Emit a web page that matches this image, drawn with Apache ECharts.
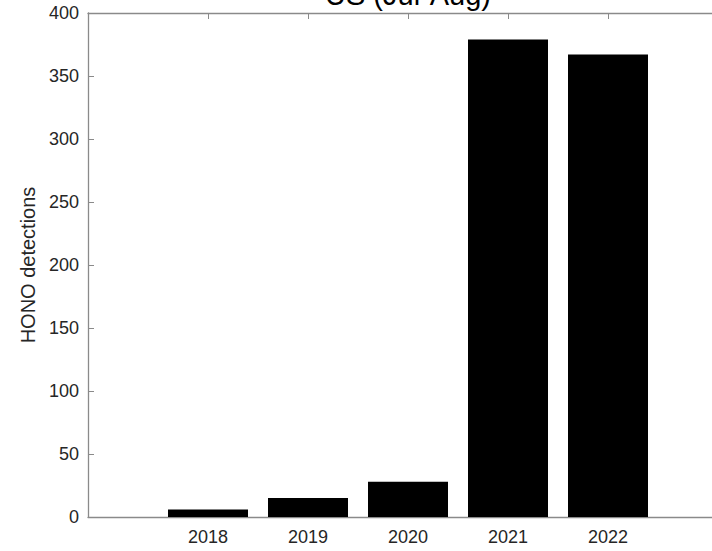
<!DOCTYPE html>
<html>
<head>
<meta charset="utf-8">
<script src="https://cdn.jsdelivr.net/npm/echarts@6/dist/echarts.min.js"></script>
<style>
  html, body { margin: 0; padding: 0; background: #fff; }
  #chart { width: 712px; height: 551px; }
</style>
</head>
<body>
<div id="chart"></div>
<script>
// HONO detections per campaign year
const years = [2018, 2019, 2020, 2021, 2022];
const detections = [6, 15, 28, 379, 367];
const yTicks = [0, 50, 100, 150, 200, 250, 300, 350, 400];

const titleText = 'US (Jul-Aug)';
const yName = 'HONO detections';

// x range of the axes box; the box runs past the right edge of the page,
// so the visible part ends at xVisibleMax
const xMin = 2016.8, xMax = 2023.2, xVisibleMax = 2023.04;
const plotLeft = 88, plotTop = 13, plotBottom = 34;
const pxPerYear = (712 - plotLeft) / (xVisibleMax - xMin);
const barPx = 0.8 * pxPerYear;

const font = '"Liberation Sans", Arial, Helvetica, sans-serif';
const axisGray = '#8a8a8a';
const textGray = '#262626';

const chart = echarts.init(document.getElementById('chart'), null, { renderer: 'svg' });

const xCommon = {
  type: 'value', min: xMin, max: xVisibleMax,
  axisLine: { show: true, lineStyle: { color: axisGray, width: 1.3 } },
  axisTick: { show: true, inside: true, length: 6, customValues: years, lineStyle: { color: axisGray } },
  splitLine: { show: false }
};

chart.setOption({
  animation: false,
  backgroundColor: '#ffffff',
  grid: { left: plotLeft, top: plotTop, right: 0, bottom: plotBottom, containLabel: false },
  xAxis: [
    Object.assign({}, xCommon, {
      position: 'bottom',
      axisLabel: { customValues: years, margin: 11, color: textGray, fontSize: 18, fontFamily: font,
                   formatter: v => String(Math.round(v)) }
    }),
    Object.assign({}, xCommon, {
      position: 'top',
      axisLabel: { show: false }
    })
  ],
  yAxis: {
    type: 'value', min: yTicks[0], max: yTicks[yTicks.length - 1], interval: yTicks[1] - yTicks[0],
    name: yName, nameLocation: 'middle', nameGap: 46,
    nameTextStyle: { color: textGray, fontSize: 20, fontFamily: font },
    axisLine: { show: true, lineStyle: { color: axisGray, width: 1.3 } },
    axisTick: { show: true, inside: true, length: 6, lineStyle: { color: axisGray } },
    axisLabel: { margin: 9, color: textGray, fontSize: 18, fontFamily: font },
    splitLine: { show: false }
  },
  series: [{
    type: 'bar',
    xAxisIndex: 0,
    barWidth: barPx,
    itemStyle: { color: '#000' },
    data: years.map((y, i) => [y, detections[i]])
  }]
});

// title centred over the full axes box
const titleX = chart.convertToPixel({ xAxisIndex: 0 }, (xMin + xMax) / 2);
chart.setOption({
  graphic: [{
    type: 'text',
    x: titleX,
    y: -5,
    style: { text: titleText, fill: '#000', font: '29px ' + font, align: 'center', verticalAlign: 'middle' }
  }]
});
</script>
</body>
</html>
